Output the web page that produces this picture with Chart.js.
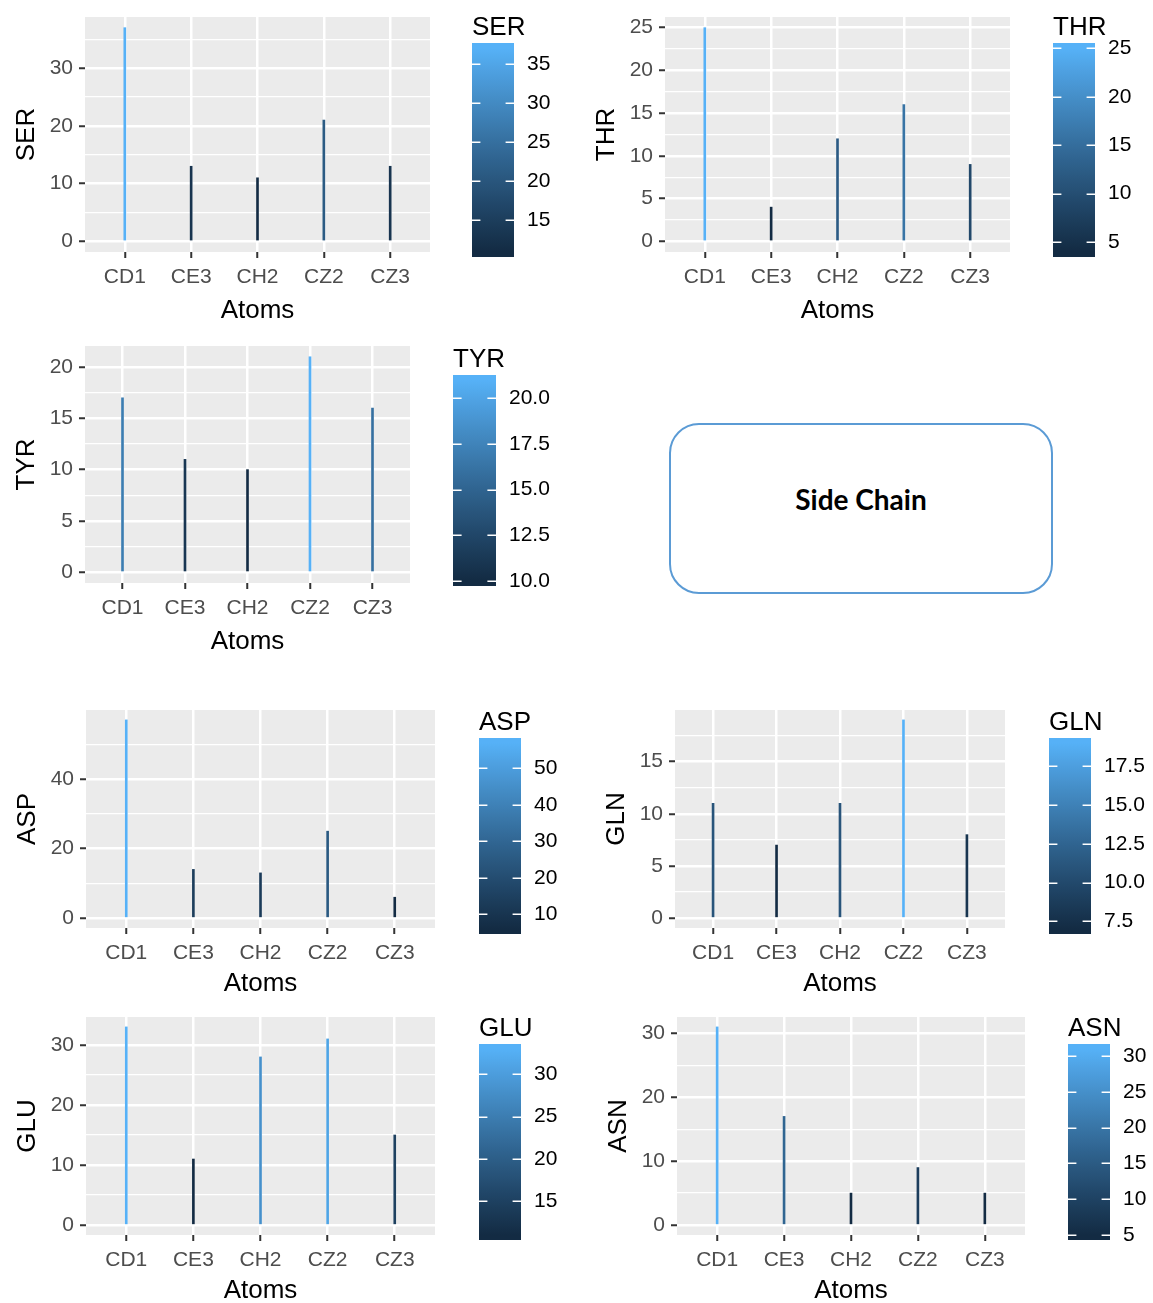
<!DOCTYPE html>
<html>
<head>
<meta charset="utf-8">
<script src="https://cdn.jsdelivr.net/npm/chart.js@4.4.0/dist/chart.umd.min.js"></script>
<style>
  html, body { margin: 0; padding: 0; background: #fff; }
  #fig { position: relative; width: 1153px; height: 1303px; overflow: hidden; }
  #fig canvas { position: absolute; }
  .note {
    position: absolute; left: 669px; top: 423px; width: 380px; height: 147px;
    padding-bottom: 20px;
    border: 2px solid #5B9BD5; border-radius: 30px;
    display: flex; align-items: center; justify-content: center;
    font-family: Lato, "Open Sans", sans-serif; font-weight: 700; font-size: 28px; color: #000;
  }
</style>
</head>
<body>
<div id="fig"><div class="note">Side Chain</div></div>
<script>
// Atom categories on the x axis
const atoms = ['CD1', 'CE3', 'CH2', 'CZ2', 'CZ3'];

// Counts per residue type
const ser = [37, 13, 11, 21, 13];
const thr = [25, 4, 12, 16, 9];
const tyr = [17, 11, 10, 21, 16];
const asp = [57, 14, 13, 25, 6];
const gln = [11, 7, 11, 19, 8];
const glu = [33, 11, 28, 31, 15];
const asn = [31, 17, 5, 9, 5];

// Major y-axis breaks for each panel
const serTicks = [0, 10, 20, 30];
const thrTicks = [0, 5, 10, 15, 20, 25];
const tyrTicks = [0, 5, 10, 15, 20];
const aspTicks = [0, 20, 40];
const glnTicks = [0, 5, 10, 15];
const gluTicks = [0, 10, 20, 30];
const asnTicks = [0, 10, 20, 30];

// Colour bar breaks for each panel
const serBarTicks = [15, 20, 25, 30, 35];
const thrBarTicks = [5, 10, 15, 20, 25];
const tyrBarTicks = [10, 12.5, 15, 17.5, 20];
const aspBarTicks = [10, 20, 30, 40, 50];
const glnBarTicks = [7.5, 10, 12.5, 15, 17.5];
const gluBarTicks = [15, 20, 25, 30];
const asnBarTicks = [5, 10, 15, 20, 25, 30];

const FONT = '"Liberation Sans", Arial, sans-serif';

// Panel placement: grey plotting area, colour bar rectangle [x0, y0, x1, y1],
// and height of the x-axis band below the grey area
const panels = [
  { name: 'SER', values: ser, yTicks: serTicks, barTicks: serBarTicks, grey: [85, 17, 430, 252],    bar: [472, 43, 514, 257],    axisH: 78 },
  { name: 'THR', values: thr, yTicks: thrTicks, barTicks: thrBarTicks, grey: [665, 17, 1010, 252],  bar: [1053, 43, 1095, 257],  axisH: 78 },
  { name: 'TYR', values: tyr, yTicks: tyrTicks, barTicks: tyrBarTicks, grey: [85, 346, 410, 583],   bar: [453, 375, 496, 586],   axisH: 78 },
  { name: 'ASP', values: asp, yTicks: aspTicks, barTicks: aspBarTicks, grey: [86, 710, 435, 928],   bar: [479, 738, 521, 934],   axisH: 75 },
  { name: 'GLN', values: gln, yTicks: glnTicks, barTicks: glnBarTicks, grey: [675, 710, 1005, 928], bar: [1049, 738, 1091, 934], axisH: 75 },
  { name: 'GLU', values: glu, yTicks: gluTicks, barTicks: gluBarTicks, grey: [86, 1017, 435, 1235], bar: [479, 1044, 521, 1240], axisH: 75 },
  { name: 'ASN', values: asn, yTicks: asnTicks, barTicks: asnBarTicks, grey: [677, 1017, 1025, 1235], bar: [1068, 1044, 1110, 1240], axisH: 75 }
];

// ---- Sequential gradient interpolated in CIELAB (#132B43 -> #56B1F7) ----
function hexToRgb(h) { return [1, 3, 5].map(i => parseInt(h.substr(i, 2), 16)); }
function toLin(c) { c /= 255; return c <= 0.04045 ? c / 12.92 : Math.pow((c + 0.055) / 1.055, 2.4); }
function fromLin(c) {
  const v = c <= 0.0031308 ? 12.92 * c : 1.055 * Math.pow(c, 1 / 2.4) - 0.055;
  return Math.round(Math.max(0, Math.min(1, v)) * 255);
}
const WN = [0.95047, 1, 1.08883];
function rgbToLab(rgb) {
  const [R, G, B] = rgb.map(toLin);
  const xyz = [
    0.4124 * R + 0.3576 * G + 0.1805 * B,
    0.2126 * R + 0.7152 * G + 0.0722 * B,
    0.0193 * R + 0.1192 * G + 0.9505 * B
  ].map((v, i) => v / WN[i]);
  const f = t => t > 0.008856 ? Math.cbrt(t) : 7.787 * t + 16 / 116;
  const [fx, fy, fz] = xyz.map(f);
  return [116 * fy - 16, 500 * (fx - fy), 200 * (fy - fz)];
}
function labToRgb([L, a, b]) {
  const fy = (L + 16) / 116, fx = fy + a / 500, fz = fy - b / 200;
  const fi = t => t > 0.206893 ? t * t * t : (t - 16 / 116) / 7.787;
  const [X, Y, Z] = [fi(fx) * WN[0], fi(fy) * WN[1], fi(fz) * WN[2]];
  const R = 3.2406 * X - 1.5372 * Y - 0.4986 * Z;
  const G = -0.9689 * X + 1.8758 * Y + 0.0415 * Z;
  const Bc = 0.0557 * X - 0.2040 * Y + 1.0570 * Z;
  return [fromLin(R), fromLin(G), fromLin(Bc)];
}
const LOW = rgbToLab(hexToRgb('#132B43'));
const HIGH = rgbToLab(hexToRgb('#56B1F7'));
function grad(t) {
  t = Math.max(0, Math.min(1, t));
  const lab = LOW.map((v, i) => v + (HIGH[i] - v) * t);
  const [r, g, b] = labToRgb(lab);
  return `rgb(${r},${g},${b})`;
}

const fig = document.getElementById('fig');
function addCanvas(left, top, w, h) {
  const cv = document.createElement('canvas');
  cv.width = w; cv.height = h;
  cv.style.left = left + 'px'; cv.style.top = top + 'px';
  cv.style.width = w + 'px'; cv.style.height = h + 'px';
  fig.appendChild(cv);
  return cv;
}

// Grey panel background
const panelBg = {
  id: 'panelBg',
  beforeDraw(chart) {
    const a = chart.chartArea, c = chart.ctx;
    c.save(); c.fillStyle = '#EBEBEB';
    c.fillRect(a.left, a.top, a.right - a.left, a.bottom - a.top);
    c.restore();
  }
};

function makePanel(p) {
  const padTop = 25, axisW = 85, padRight = 12, axisH = p.axisH;
  const [gx0, gy0, gx1, gy1] = p.grey;
  const W = gx1 - gx0 + axisW + padRight, H = gy1 - gy0 + padTop + axisH;
  const cv = addCanvas(gx0 - axisW, gy0 - padTop, W, H);

  const lo = Math.min(...p.values), hi = Math.max(...p.values);
  const yMin = -0.05 * hi, yMax = 1.05 * hi;
  const step = p.yTicks[1] - p.yTicks[0];
  const majors = new Set(p.yTicks);
  const minors = [p.yTicks[0] - step / 2, ...p.yTicks.map(t => t + step / 2)]
    .filter(v => v > yMin && v < yMax);
  const yAll = [...p.yTicks, ...minors].sort((a, b) => a - b);

  new Chart(cv, {
    type: 'bar',
    data: {
      datasets: [{
        data: p.values.map((v, i) => ({ x: i, y: v })),
        backgroundColor: p.values.map(v => grad((v - lo) / (hi - lo))),
        barThickness: 2,
        borderWidth: 0
      }]
    },
    options: {
      responsive: false, animation: false, devicePixelRatio: 1,
      layout: { padding: { top: padTop, right: padRight, left: 0, bottom: 0 } },
      plugins: { legend: { display: false }, tooltip: { enabled: false } },
      scales: {
        x: {
          type: 'linear', min: -0.6, max: 4.6, offset: false,
          afterBuildTicks: s => { s.ticks = atoms.map((_, i) => ({ value: i })); },
          afterFit: s => { s.height = axisH; },
          ticks: {
            callback: v => atoms[v] ?? '', autoSkip: false, maxRotation: 0,
            color: '#4D4D4D', font: { family: FONT, size: 21 }, padding: 7
          },
          grid: { offset: false, color: '#FFFFFF', lineWidth: 2.5, tickColor: '#333333', tickLength: 6, tickWidth: 2 },
          border: { display: false },
          title: { display: true, text: 'Atoms', color: '#000', font: { family: FONT, size: 26 }, padding: { top: 0, bottom: 4 } }
        },
        y: {
          type: 'linear', min: yMin, max: yMax,
          afterBuildTicks: s => { s.ticks = yAll.map(v => ({ value: v })); },
          afterFit: s => { s.width = axisW; },
          ticks: {
            callback: v => majors.has(v) ? String(v) : '', autoSkip: false,
            color: '#4D4D4D', font: { family: FONT, size: 21 }, padding: 6
          },
          grid: {
            color: '#FFFFFF',
            lineWidth: c => majors.has(c.tick.value) ? 2.5 : 1.3,
            tickColor: c => majors.has(c.tick.value) ? '#333333' : 'rgba(0,0,0,0)',
            tickLength: 6, tickWidth: 2
          },
          border: { display: false },
          title: { display: true, text: p.name, color: '#000', font: { family: FONT, size: 26 }, padding: { top: 11, bottom: 0 } }
        }
      }
    },
    plugins: [panelBg]
  });
}

function makeColourBar(p) {
  const [x0, y0, x1, y1] = p.bar;
  const bw = x1 - x0, bh = y1 - y0;
  const top = 45, bottom = 30, axW = 60;
  const cv = addCanvas(x0, y0 - top, bw + axW, bh + top + bottom);
  const lo = Math.min(...p.values), hi = Math.max(...p.values);
  const ext = (hi - lo) * 0.5 / 19;
  const decimals = p.barTicks.some(v => !Number.isInteger(v)) ? 1 : 0;

  const barDecor = {
    id: 'barDecor',
    afterDatasetsDraw(chart) {
      const c = chart.ctx, a = chart.chartArea, ys = chart.scales.y;
      const len = (a.right - a.left) / 5;
      c.save();
      c.strokeStyle = '#FFFFFF'; c.lineWidth = 1.5;
      p.barTicks.forEach(v => {
        const y = Math.round(ys.getPixelForValue(v)) + 0.25;
        c.beginPath();
        c.moveTo(a.left, y); c.lineTo(a.left + len, y);
        c.moveTo(a.right - len, y); c.lineTo(a.right, y);
        c.stroke();
      });
      c.restore();
    },
    afterDraw(chart) {
      const c = chart.ctx, a = chart.chartArea;
      c.save();
      c.fillStyle = '#000'; c.font = `26px ${FONT}`;
      c.textAlign = 'left'; c.textBaseline = 'alphabetic';
      c.fillText(p.name, a.left, a.top - 8);
      c.restore();
    }
  };

  new Chart(cv, {
    type: 'bar',
    data: {
      labels: [p.name],
      datasets: [{
        data: [[lo - ext, hi + ext]],
        backgroundColor: ctx => {
          const ch = ctx.chart, ys = ch.scales.y;
          if (!ch.chartArea || !ys) return grad(0.5);
          const g = ch.ctx.createLinearGradient(0, ys.getPixelForValue(lo), 0, ys.getPixelForValue(hi));
          for (let k = 0; k <= 20; k++) g.addColorStop(k / 20, grad(k / 20));
          return g;
        },
        barPercentage: 1, categoryPercentage: 1,
        borderWidth: 0, borderSkipped: false, inflateAmount: 0
      }]
    },
    options: {
      responsive: false, animation: false, devicePixelRatio: 1,
      layout: { padding: { top: top, bottom: bottom, left: 0, right: 0 } },
      plugins: { legend: { display: false }, tooltip: { enabled: false } },
      scales: {
        x: { display: false },
        y: {
          position: 'right', min: lo - ext, max: hi + ext,
          afterBuildTicks: s => { s.ticks = p.barTicks.map(v => ({ value: v })); },
          afterFit: s => { s.width = axW; },
          grid: { display: false, drawTicks: false },
          border: { display: false },
          ticks: {
            autoSkip: false, padding: 13, color: '#000',
            font: { family: FONT, size: 21 },
            callback: v => Number(v).toFixed(decimals)
          }
        }
      }
    },
    plugins: [barDecor]
  });
}

panels.forEach(p => { makePanel(p); makeColourBar(p); });
</script>
</body>
</html>
